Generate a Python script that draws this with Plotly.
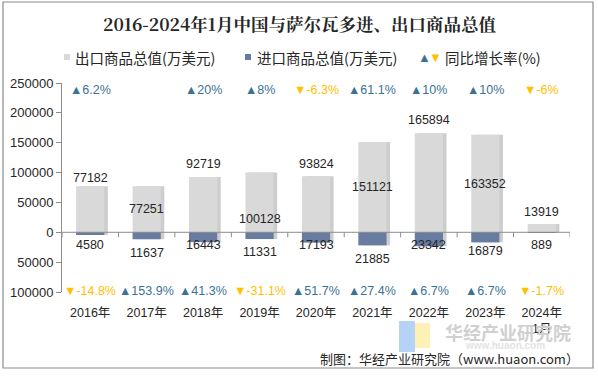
import plotly.graph_objects as go

# ---------------- data ----------------
categories = ["2016年", "2017年", "2018年", "2019年", "2020年", "2021年", "2022年", "2023年", "2024年<br>1月"]
export_values = [77182, 77251, 92719, 100128, 93824, 151121, 165894, 163352, 13919]
import_values = [4580, 11637, 16443, 11331, 17193, 21885, 23342, 16879, 889]
export_growth = [6.2, None, 20, 8, -6.3, 61.1, 10, 10, -6]
import_growth = [-14.8, 153.9, 41.3, -31.1, 51.7, 27.4, 6.7, 6.7, -1.7]
y_tick_values = [-100000, -50000, 0, 50000, 100000, 150000, 200000, 250000]
y_tick_labels = ["100000", "50000", "0", "50000", "100000", "150000", "200000", "250000"]

# ---------------- style / layout ----------------
W, H = 598, 376
ML, MR, MT, MB = 62, 28, 83, 84
PW, PH = W - ML - MR, H - MT - MB
FONT = "Liberation Sans, Arial, Noto Sans CJK SC, sans-serif"
CJK = "Noto Sans CJK SC, Liberation Sans, sans-serif"
EXPORT_COLOR = "#d9d9d9"
IMPORT_COLOR = "#687ca2"
UP_COLOR = "#3a7196"
DOWN_COLOR = "#ffc000"
TEXT_COLOR = "#262626"
AXIS_COLOR = "#8c8c8c"
BAR_W = 0.5
SHADOW_SHIFT = 3.5 / (PW / len(categories))

def xp(px):
    return (px - ML) / PW

def yp(py):
    return (H - MB - py) / PH

# label vertical placements (data units), as laid out in the original
export_label_y = [91500, 38500, 114900, 21700, 113700, 75800, 187300, 81400, 34000]
import_label_y = [-21700, -34000, -21700, -33000, -21700, -44000, -21700, -31800, -21700]
TOP_ROW_Y = 239000
BOTTOM_ROW_Y = -98700

fig = go.Figure()

# shadows
neg_imports = [-v for v in import_values]
for vals in (export_values, neg_imports):
    fig.add_trace(go.Bar(x=categories, y=vals, width=BAR_W, offset=-BAR_W / 2 + SHADOW_SHIFT,
                         marker=dict(color="rgba(90,90,90,0.3)", line=dict(width=0)),
                         hoverinfo="skip", showlegend=False))

fig.add_trace(go.Bar(x=categories, y=export_values, name="出口商品总值(万美元)", width=BAR_W,
                     offset=-BAR_W / 2, marker=dict(color=EXPORT_COLOR, line=dict(width=0)),
                     showlegend=False))
fig.add_trace(go.Bar(x=categories, y=neg_imports, name="进口商品总值(万美元)", width=BAR_W,
                     offset=-BAR_W / 2, marker=dict(color=IMPORT_COLOR, line=dict(width=0)),
                     customdata=import_values, hovertemplate="%{customdata}<extra></extra>",
                     showlegend=False))

annotations = []

def ann(**kw):
    kw.setdefault("showarrow", False)
    kw.setdefault("xanchor", "center")
    kw.setdefault("yanchor", "middle")
    annotations.append(kw)

for i, c in enumerate(categories):
    ann(x=c, y=export_label_y[i], xref="x", yref="y", text=str(export_values[i]),
        font=dict(family=FONT, size=12.5, color=TEXT_COLOR))
    ann(x=c, y=import_label_y[i], xref="x", yref="y", text=str(import_values[i]),
        font=dict(family=FONT, size=12.5, color=TEXT_COLOR))
    g = export_growth[i]
    if g is not None:
        up = g >= 0
        ann(x=c, y=TOP_ROW_Y, xref="x", yref="y", text=("▲" if up else "▼") + f"{g:g}%",
            font=dict(family=FONT, size=12.5, color=UP_COLOR if up else DOWN_COLOR))
    g = import_growth[i]
    if g is not None:
        up = g >= 0
        ann(x=c, y=BOTTOM_ROW_Y, xref="x", yref="y", text=("▲" if up else "▼") + f"{g:g}%",
            font=dict(family=FONT, size=12.5, color=UP_COLOR if up else DOWN_COLOR))

# title
ann(x=xp(299), y=yp(24), xref="paper", yref="paper",
    text="<b>2016-2024年1月中国与萨尔瓦多进、出口商品总值</b>",
    font=dict(family="Noto Serif CJK SC, Noto Sans CJK SC, serif", size=17.5, color=TEXT_COLOR))
# legend
legend_items = [(73, "出口商品总值(万美元)"), (255, "进口商品总值(万美元)"), (443, "同比增长率(%)")]
for px, t in legend_items:
    ann(x=xp(px), y=yp(57), xref="paper", yref="paper", xanchor="left", text=t,
        font=dict(family=CJK, size=14.5, color=TEXT_COLOR))
ann(x=xp(424), y=yp(57), xref="paper", yref="paper", text="▲",
    font=dict(family=FONT, size=13, color=UP_COLOR))
ann(x=xp(435), y=yp(57), xref="paper", yref="paper", text="▼",
    font=dict(family=FONT, size=13, color=DOWN_COLOR))
# watermark
ann(x=xp(508), y=yp(332), xref="paper", yref="paper", text="<b>华经产业研究院</b>",
    font=dict(family=CJK, size=18, color="#d0d0d0"))
ann(x=xp(505), y=yp(345), xref="paper", yref="paper", text="<b>www.huaon.com</b>",
    font=dict(family=FONT, size=10, color="#e3e3e3"))
# source
ann(x=xp(581), y=yp(358), xref="paper", yref="paper", xanchor="right",
    text="制图：华经产业研究院（www.huaon.com）", font=dict(family=CJK, size=13, color=TEXT_COLOR))

shapes = [
    # outer border
    dict(type="rect", xref="paper", yref="paper", x0=xp(3), x1=xp(593), y0=yp(368), y1=yp(2),
         line=dict(color="#8c8c8c", width=1.2), layer="below"),
    # legend squares
    dict(type="rect", xref="paper", yref="paper", x0=xp(64), x1=xp(70), y0=yp(60), y1=yp(54),
         fillcolor=EXPORT_COLOR, line=dict(width=0)),
    dict(type="rect", xref="paper", yref="paper", x0=xp(245), x1=xp(251), y0=yp(60), y1=yp(54),
         fillcolor=IMPORT_COLOR, line=dict(width=0)),
    # watermark icon
    dict(type="rect", xref="paper", yref="paper", x0=xp(399), x1=xp(415), y0=yp(352), y1=yp(321),
         fillcolor="#b5d2f7", line=dict(width=0), layer="below"),
    dict(type="rect", xref="paper", yref="paper", x0=xp(415), x1=xp(430), y0=yp(348), y1=yp(323),
         fillcolor="#fdf1b5", line=dict(width=0), layer="below"),
    # zero line
    dict(type="line", xref="paper", yref="y", x0=0, x1=1, y0=0, y1=0,
         line=dict(color=AXIS_COLOR, width=1)),
]
for i in range(len(categories) + 1):
    shapes.append(dict(type="line", xref="x", yref="y", x0=i - 0.5, x1=i - 0.5, ysizemode="pixel",
                       yanchor=0, y0=0, y1=-5, line=dict(color=AXIS_COLOR, width=1)))

fig.update_layout(
    width=W, height=H, margin=dict(l=ML, r=MR, t=MT, b=MB),
    paper_bgcolor="white", plot_bgcolor="white",
    barmode="overlay", bargap=0.5,
    showlegend=False,
    font=dict(family=FONT, color=TEXT_COLOR),
    annotations=annotations, shapes=shapes,
    xaxis=dict(type="category", range=[-0.5, len(categories) - 0.5], showgrid=False, zeroline=False,
               showline=False, ticks="", ticklabelstandoff=11, automargin=False,
               tickfont=dict(family=FONT, size=12.5, color=TEXT_COLOR)),
    yaxis=dict(range=[-100000, 250000], tickvals=y_tick_values, ticktext=y_tick_labels,
               showgrid=False, zeroline=False, showline=True, linecolor=AXIS_COLOR, linewidth=1,
               ticks="outside", ticklen=5, tickcolor=AXIS_COLOR, automargin=False,
               tickfont=dict(family=FONT, size=13, color=TEXT_COLOR)),
)

fig.write_html("out.html", config={"displayModeBar": False},
               post_script="document.body.style.margin='0px';")
